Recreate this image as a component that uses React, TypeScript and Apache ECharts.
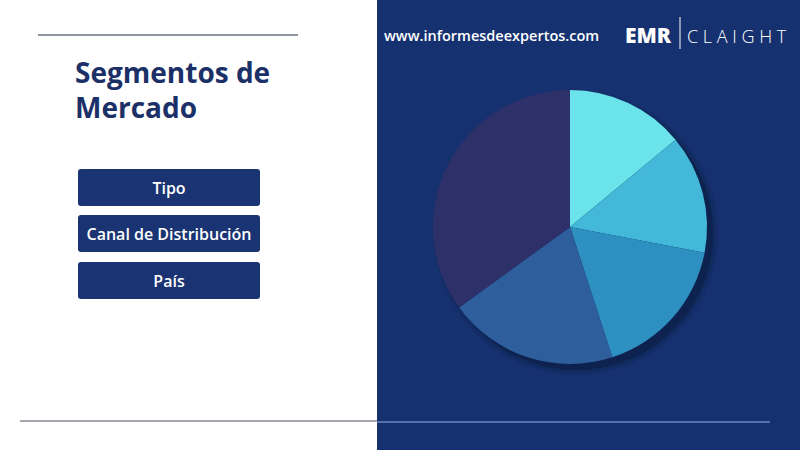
import React, { useEffect, useRef } from "react";
import * as echarts from "echarts";

const segmentNames = ["Segmento 1", "Segmento 2", "Segmento 3", "Segmento 4", "Segmento 5"];
const segmentValues = [14, 14, 17, 20, 35];
const segmentColors = ["#6be3ea", "#44b8d9", "#2e8fc1", "#2f5e9c", "#2e3169"];
const buttonLabels = ["Tipo", "Canal de Distribución", "País"];
const titleLines = ["Segmentos de", "Mercado"];

export default function App() {
  const ref = useRef<HTMLDivElement>(null);
  useEffect(() => {
    if (!ref.current) return;
    const chart = echarts.init(ref.current, undefined, { renderer: "svg" });
    const navy = "#16316f";
    const buttons: any[] = [];
    const tops = [169, 215, 262];
    buttonLabels.forEach((lab, i) => {
      buttons.push({
        type: "rect",
        shape: { x: 78, y: tops[i], width: 182, height: 37, r: 3 },
        style: { fill: "#1a3372" },
      });
      buttons.push({
        type: "text",
        x: 169,
        y: tops[i] + 18.5,
        style: {
          text: lab,
          fill: "#ffffff",
          font: "600 16px 'Open Sans', sans-serif",
          textAlign: "center",
          textVerticalAlign: "middle",
        },
      });
    });
    chart.setOption({
      animation: false,
      backgroundColor: "#ffffff",
      graphic: [
        { type: "rect", z: -10, shape: { x: 377, y: 0, width: 423, height: 450 }, style: { fill: navy } },
        { type: "line", shape: { x1: 38, y1: 35, x2: 298, y2: 35 }, style: { stroke: "#1f2a44", lineWidth: 1.2 } },
        { type: "line", shape: { x1: 20, y1: 421, x2: 377, y2: 421 }, style: { stroke: "#4a505c", lineWidth: 1.2 } },
        { type: "line", shape: { x1: 377, y1: 422, x2: 770, y2: 422 }, style: { stroke: "#8fb3ee", lineWidth: 1.2 } },
        {
          type: "text", x: 75, y: 72,
          style: { text: titleLines[0], fill: "#1c3068", font: "bold 28px 'Open Sans', 'Noto Sans', sans-serif", textVerticalAlign: "middle" },
        },
        {
          type: "text", x: 75, y: 107,
          style: { text: titleLines[1], fill: "#1c3068", font: "bold 28px 'Open Sans', 'Noto Sans', sans-serif", textVerticalAlign: "middle" },
        },
        ...buttons,
        {
          type: "text", x: 384, y: 35,
          style: { text: "www.informesdeexpertos.com", fill: "#ffffff", font: "600 14.5px 'Open Sans', sans-serif", textVerticalAlign: "middle" },
        },
        {
          type: "text", x: 625, y: 35,
          style: { text: "EMR", fill: "#ffffff", font: "900 21px 'Open Sans', sans-serif", textVerticalAlign: "middle" },
        },
        { type: "line", shape: { x1: 680, y1: 17, x2: 680, y2: 49 }, style: { stroke: "#ffffff", lineWidth: 1 } },
        {
          type: "text", x: 687, y: 36,
          style: { text: "C L A I G H T", fill: "#ffffff", font: "300 18px 'Open Sans', sans-serif", textVerticalAlign: "middle" },
        },
      ],
      series: [
        {
          type: "pie",
          z: 1,
          center: [576, 233],
          radius: 137,
          silent: true,
          label: { show: false },
          labelLine: { show: false },
          itemStyle: {
            color: "#0f2250",
            shadowColor: "rgba(10,20,50,0.8)",
            shadowBlur: 6,
          },
          data: [{ value: 1, name: "sombra" }],
        },
        {
          type: "pie",
          z: 2,
          center: [570, 227],
          radius: 137,
          startAngle: 90,
          clockwise: true,
          label: { show: false },
          labelLine: { show: false },
          silent: true,
          itemStyle: { borderWidth: 0 },
          data: segmentValues.map((v, i) => ({
            value: v,
            name: segmentNames[i],
            itemStyle: { color: segmentColors[i] },
          })),
        },
      ],
    });
    return () => chart.dispose();
  }, []);
  return <div ref={ref} style={{ position: "fixed", left: 0, top: 0, width: 800, height: 450 }} />;
}
